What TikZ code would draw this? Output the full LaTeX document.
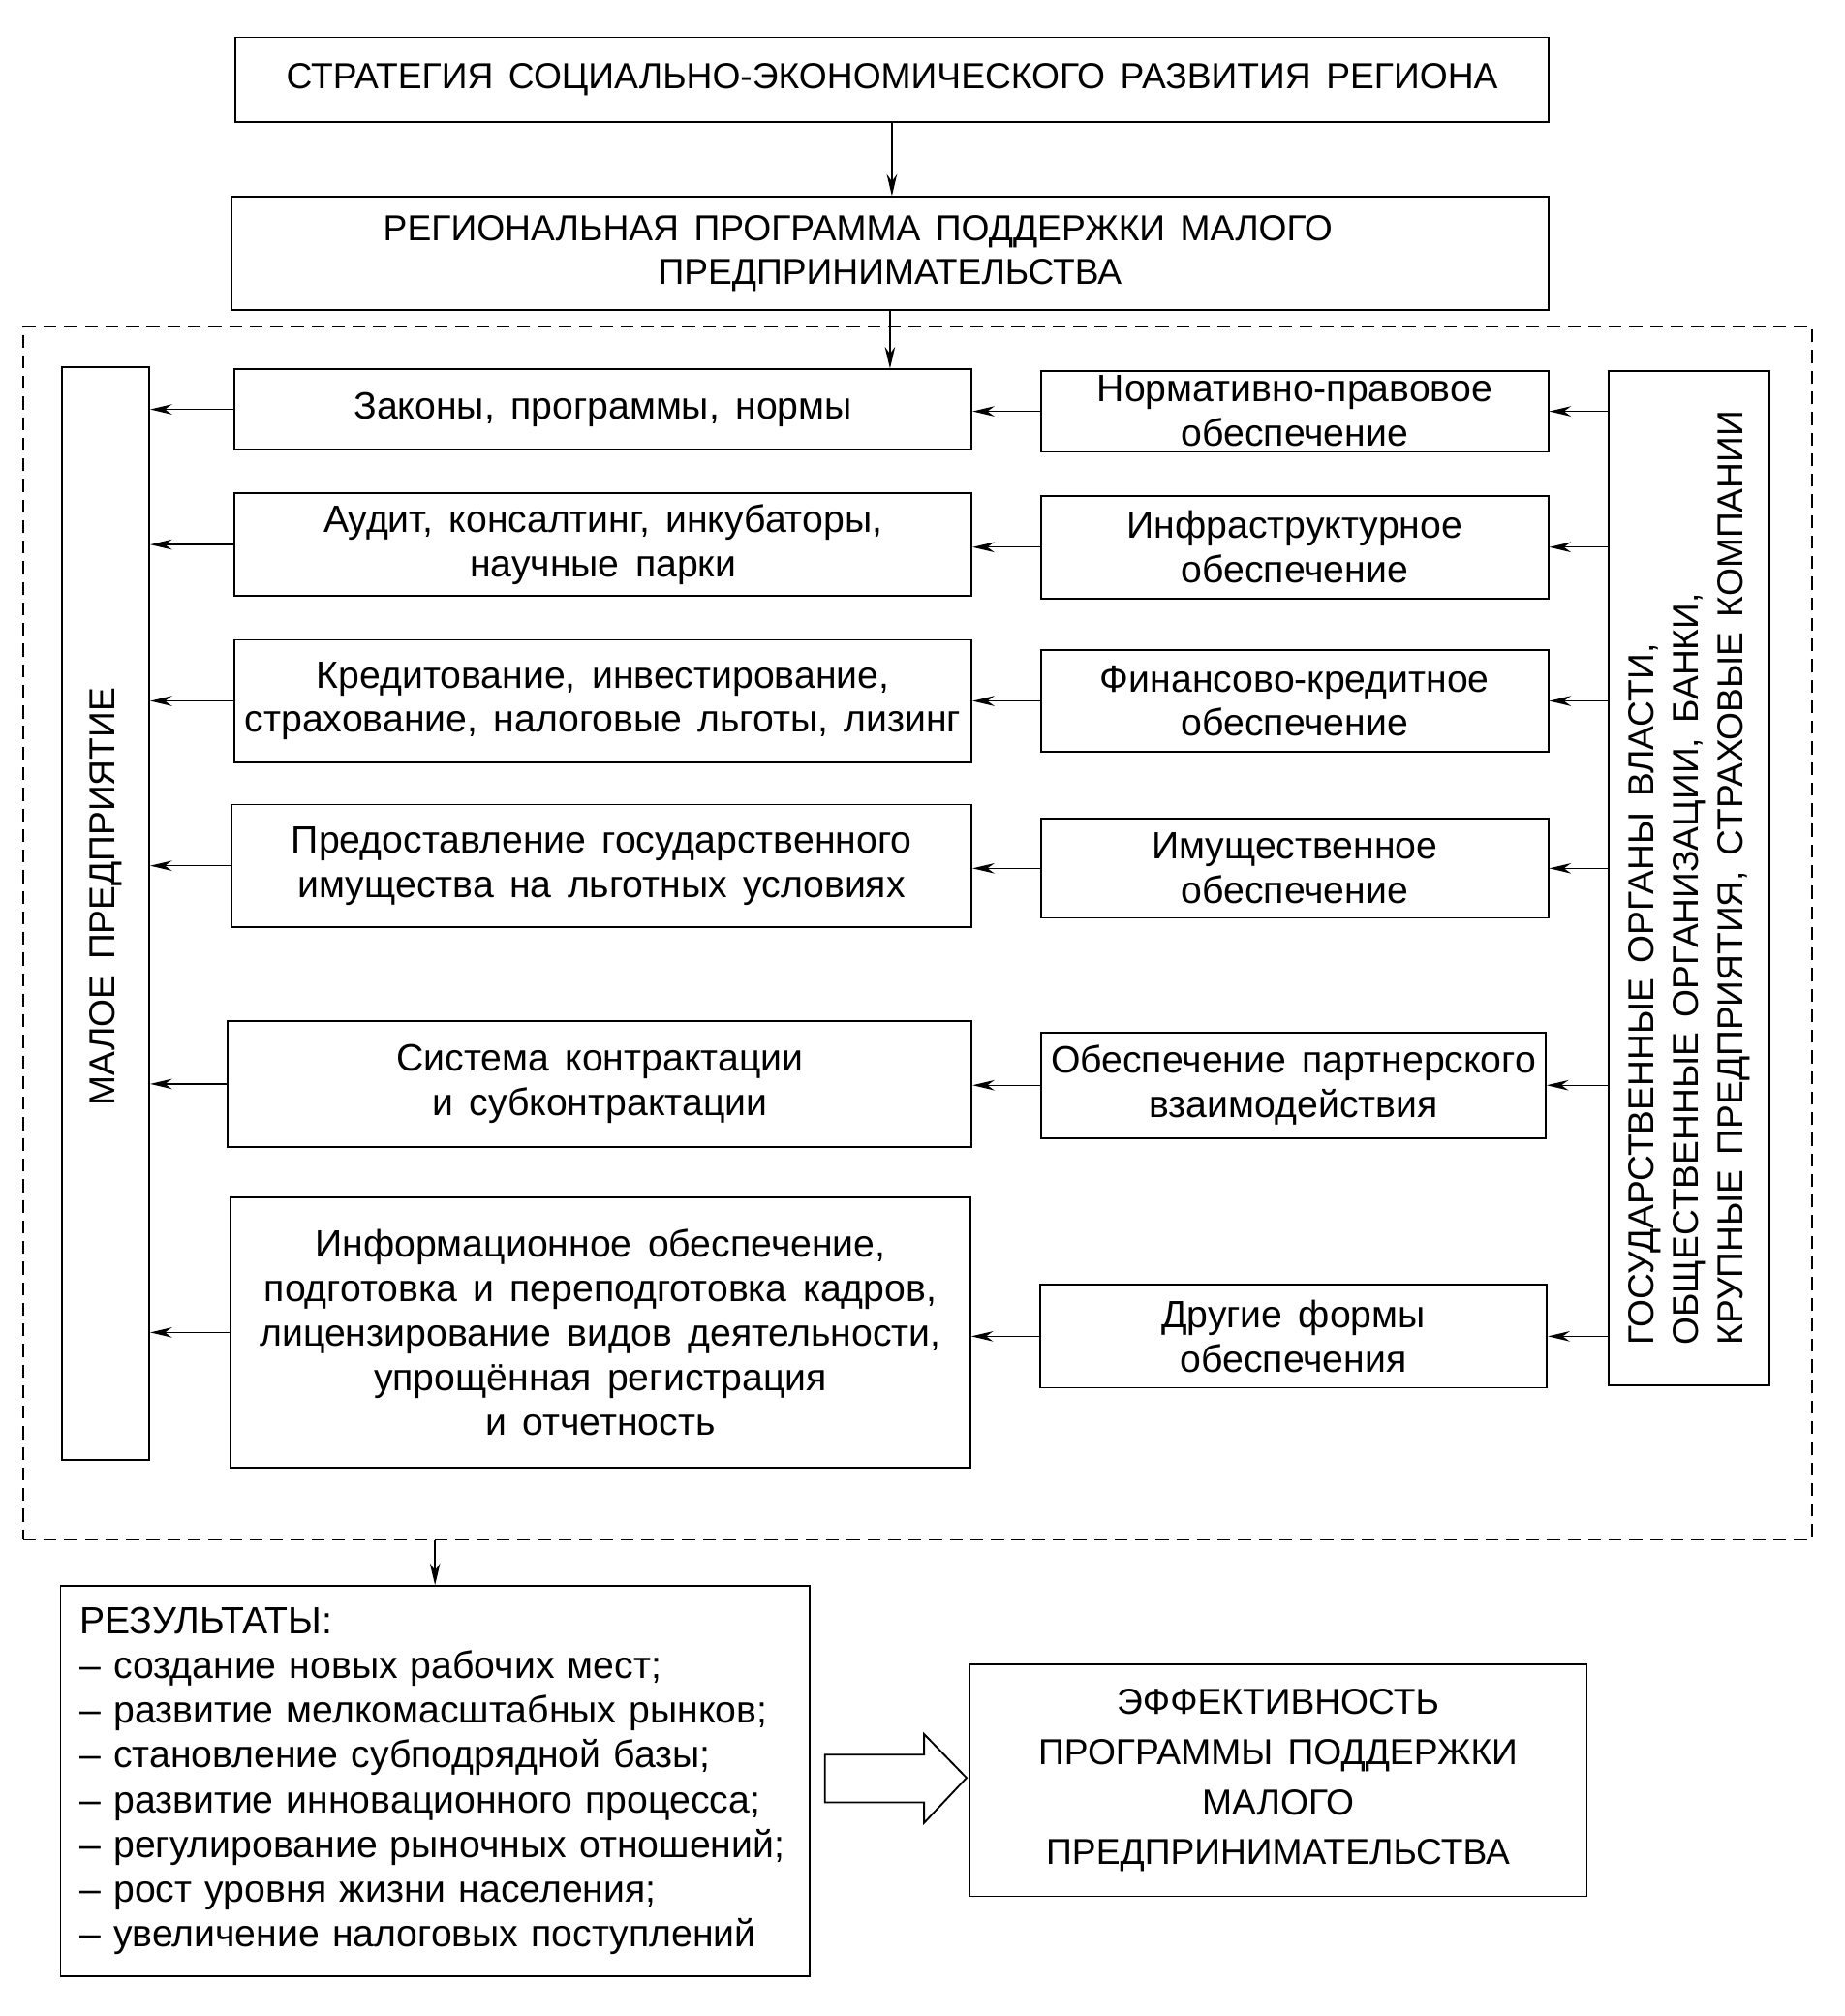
\documentclass[tikz,border=0pt]{standalone}
\usepackage{fontspec}
\setmainfont{Liberation Sans}[WordSpace=1.5]
\usetikzlibrary{arrows.meta}
\begin{document}
\begin{tikzpicture}[x=1pt,y=-1pt,
  box/.style={draw, line width=1.4pt, inner sep=0pt, align=center, font=\fontsize{29.5}{34.5}\selectfont},
  capsfont/.style={font=\fontsize{28}{34.5}\selectfont},
  arr/.style={-{Stealth[length=17pt,width=8pt]}, line width=1pt},
  dashframe/.style={draw, line width=1.2pt, dash pattern=on 10pt off 6pt, inner sep=0pt},
]
\useasboundingbox (0,0) rectangle (1433,1566);

\node[box, capsfont, minimum width=1020pt, minimum height=66pt] (top) at (693,62)
  {СТРАТЕГИЯ  СОЦИАЛЬНО-ЭКОНОМИЧЕСКОГО РАЗВИТИЯ РЕГИОНА};
\node[box, capsfont, minimum width=1023pt, minimum height=88pt] (prog) at (691.5,197)
  {РЕГИОНАЛЬНАЯ ПРОГРАММА  ПОДДЕРЖКИ МАЛОГО\hspace*{50pt}\\ПРЕДПРИНИМАТЕЛЬСТВА};

\node[dashframe, minimum width=1390pt, minimum height=942pt] (frame) at (713,725) {};

\node[box, capsfont, rotate=90, minimum width=849pt, minimum height=68pt] (malo) at (82,709.5)
  {\hspace*{26pt}МАЛОЕ  ПРЕДПРИЯТИЕ};

\node[box, minimum width=573pt, minimum height=62pt] (l1) at (468.5,318)
  {Законы, программы, нормы};
\node[box, minimum width=573pt, minimum height=80pt] (l2) at (468.5,423)
  {Аудит, консалтинг, инкубаторы,\\научные парки};
\node[box, minimum width=573pt, minimum height=95pt] (l3) at (468.5,544.5)
  {Кредитование, инвестирование,\\страхование, налоговые льготы, лизинг};
\node[box, minimum width=575pt, minimum height=95pt] (l4) at (467.5,672.5)
  {Предоставление  государственного\\имущества  на  льготных  условиях};
\node[box, minimum width=578pt, minimum height=98pt] (l5) at (466,842)
  {Система  контрактации\\и  субконтрактации};
\node[box, minimum width=575pt, minimum height=210pt] (l6) at (466.5,1035)
  {Информационное обеспечение,\\подготовка  и  переподготовка кадров,\\лицензирование видов деятельности,\\упрощённая  регистрация\\и отчетность};

\node[box, minimum width=394pt, minimum height=63pt] (r1) at (1006,319.5)
  {Нормативно-правовое\\обеспечение};
\node[box, minimum width=394pt, minimum height=80pt] (r2) at (1006,425)
  {Инфраструктурное\\обеспечение};
\node[box, minimum width=394pt, minimum height=79pt] (r3) at (1006,544.5)
  {Финансово-кредитное\\обеспечение};
\node[box, minimum width=394pt, minimum height=77pt] (r4) at (1006,674.5)
  {Имущественное\\обеспечение};
\node[box, minimum width=392pt, minimum height=82pt] (r5) at (1005,843)
  {Обеспечение партнерского\\взаимодействия};
\node[box, minimum width=394pt, minimum height=80pt] (r6) at (1005,1038)
  {Другие  формы\\обеспечения};

\node[box, capsfont, rotate=90, align=left, minimum width=788pt, minimum height=125pt] (gov) at (1312.5,682)
  {ГОСУДАРСТВЕННЫЕ ОРГАНЫ ВЛАСТИ,\\ОБЩЕСТВЕННЫЕ ОРГАНИЗАЦИИ, БАНКИ,\\КРУПНЫЕ ПРЕДПРИЯТИЯ, СТРАХОВЫЕ КОМПАНИИ};

\node[box, align=left, text width=552pt, inner xsep=15pt, minimum height=303pt,
  font=\fontsize{29.5}{34.8}\selectfont] (res) at (338,1383.5)
  {РЕЗУЛЬТАТЫ:\\
   – создание  новых  рабочих  мест;\\
   – развитие  мелкомасштабных  рынков;\\
   – становление  субподрядной  базы;\\
   – развитие  инновационного  процесса;\\
   – регулирование  рыночных  отношений;\\
   – рост  уровня  жизни  населения;\\
   – увеличение  налоговых  поступлений};

\node[box, minimum width=480pt, minimum height=180pt, font=\fontsize{28}{39}\selectfont] (eff) at (993,1383)
  {ЭФФЕКТИВНОСТЬ\\ПРОГРАММЫ ПОДДЕРЖКИ\\МАЛОГО\\ПРЕДПРИНИМАТЕЛЬСТВА};

% arrows
\draw[arr] (top.south) -- (top.south |- prog.north);
\draw[arr] (prog.south) -- (prog.south |- l1.north);

\foreach \r/\l in {r1/l1, r2/l2, r3/l3, r4/l4, r5/l5, r6/l6} {
  \draw[arr] (gov.north |- \r.east) -- (\r.east);
  \draw[arr] (\r.west) -- (\l.east |- \r.west);
  \draw[arr] (\l.west) -- (malo.south |- \l.west);
}

\draw[arr] (res.north |- frame.south) -- (res.north);

% hollow arrow
\draw[line width=1.4pt, line join=miter]
  (641,1363) -- (718,1363) -- (718,1347) -- (751,1381) -- (718,1416) -- (718,1400) -- (641,1400) -- cycle;
\end{tikzpicture}
\end{document}
